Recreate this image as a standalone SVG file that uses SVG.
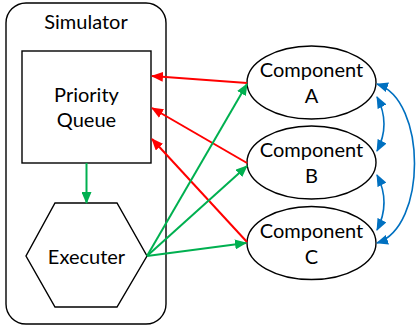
<svg xmlns="http://www.w3.org/2000/svg" width="416" height="327" viewBox="0 0 416 327">
  <style>
    .shape { fill: #ffffff; stroke: #000000; stroke-width: 1.4; }
    .frame { fill: none; stroke: #000000; stroke-width: 1.4; }
    .label { font-family: Lato, "Liberation Sans", sans-serif; font-size: 20px; fill: #000000; text-anchor: middle; }
    .red { fill: none; stroke: #ff0000; stroke-width: 2; marker-end: url(#head-red); }
    .green { fill: none; stroke: #00b050; stroke-width: 2; marker-end: url(#head-green); }
    .blue { fill: none; stroke: #0070c0; stroke-width: 1.6; marker-start: url(#head-blue); marker-end: url(#head-blue); }
  </style>
  <defs>
    <marker id="head-red" viewBox="0 0 12 10" refX="11" refY="5" markerWidth="12" markerHeight="10" markerUnits="userSpaceOnUse" orient="auto">
      <path d="M0,0 L12,5 L0,10 z" fill="#ff0000"/>
    </marker>
    <marker id="head-green" viewBox="0 0 12 10" refX="11" refY="5" markerWidth="12" markerHeight="10" markerUnits="userSpaceOnUse" orient="auto">
      <path d="M0,0 L12,5 L0,10 z" fill="#00b050"/>
    </marker>
    <marker id="head-blue" viewBox="0 0 12 10" refX="11" refY="5" markerWidth="12" markerHeight="10" markerUnits="userSpaceOnUse" orient="auto-start-reverse">
      <path d="M0,0 L12,5 L0,10 z" fill="#0070c0"/>
    </marker>
  </defs>

  <!-- simulator container -->
  <g id="simulator">
    <rect class="frame" x="6" y="3" width="160" height="321" rx="20" ry="20"/>
    <text class="label" x="86" y="29">Simulator</text>
  </g>

  <g id="priority-queue">
    <rect class="shape" x="22" y="51" width="129" height="112"/>
    <text class="label" x="86.5" y="102">Priority</text>
    <text class="label" x="86.5" y="127">Queue</text>
  </g>

  <g id="executer">
    <polygon class="shape" points="55,203 117,203 147,256 117,307 55,307 26,256"/>
    <text class="label" x="86.5" y="264">Executer</text>
  </g>

  <g id="component-a">
    <ellipse class="shape" cx="311.5" cy="82.5" rx="64.5" ry="36.5"/>
    <text class="label" x="311.5" y="77">Component</text>
    <text class="label" x="311.5" y="103">A</text>
  </g>

  <g id="component-b">
    <ellipse class="shape" cx="311.5" cy="162.5" rx="64.5" ry="36.5"/>
    <text class="label" x="311.5" y="157">Component</text>
    <text class="label" x="311.5" y="183">B</text>
  </g>

  <g id="component-c">
    <ellipse class="shape" cx="311.5" cy="243" rx="64.5" ry="36.5"/>
    <text class="label" x="311.5" y="238">Component</text>
    <text class="label" x="311.5" y="264">C</text>
  </g>

  <!-- connectors -->
  <g id="connectors">
    <path class="green" d="M86.5,163 L86.5,203"/>

    <path class="red" d="M247,83 L152,76"/>
    <path class="red" d="M247,163 L152,108"/>
    <path class="red" d="M247,242 L152,139"/>

    <path class="green" d="M147,256 L247,84"/>
    <path class="green" d="M147,256 L247,166"/>
    <path class="green" d="M147,256 L246,243"/>

    <path class="blue" d="M377,97 Q391,124 377,151"/>
    <path class="blue" d="M377,175 Q391,202.5 377,230"/>
    <path class="blue" d="M377,84 C427,100 427,227 377,243"/>
  </g>
</svg>
